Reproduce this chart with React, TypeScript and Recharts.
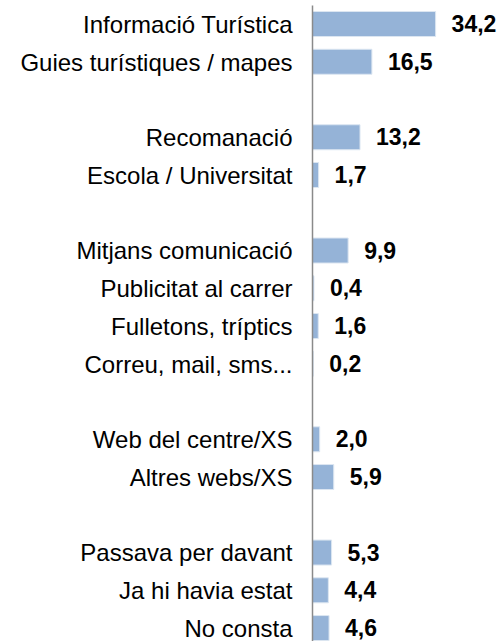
import { Bar, BarChart, LabelList, XAxis, YAxis } from "recharts"

// blank entries are the spacer rows between groups
const categories = [
  "Informació Turística",
  "Guies turístiques / mapes",
  "",
  "Recomanació",
  "Escola / Universitat",
  "",
  "Mitjans comunicació",
  "Publicitat al carrer",
  "Fulletons, tríptics",
  "Correu, mail, sms...",
  "",
  "Web del centre/XS",
  "Altres webs/XS",
  "",
  "Passava per davant",
  "Ja hi havia estat",
  "No consta",
]

const values = [34.2, 16.5, null, 13.2, 1.7, null, 9.9, 0.4, 1.6, 0.2, null, 2.0, 5.9, null, 5.3, 4.4, 4.6]

const data = categories.map((name, i) => ({ idx: i, name, value: values[i] }))

const fmt = (v: any) => (v == null || v === "" ? "" : Number(v).toFixed(1).replace(".", ","))

export default function App() {
  return (
    <div style={{ position: "absolute", left: 0, top: 0, fontFamily: "'Liberation Sans', Arial, sans-serif" }}>
      <BarChart
        width={502}
        height={660}
        data={data}
        layout="vertical"
        margin={{ top: 5.5, right: 9.5, bottom: 12.7, left: 0 }}
      >
        <XAxis type="number" domain={[0, 50]} hide />
        <YAxis
          type="category"
          dataKey="idx"
          width={312.5}
          interval={0}
          tickLine={false}
          tickSize={0}
          tickMargin={20}
          tickFormatter={(i: number) => categories[i]}
          axisLine={{ stroke: "#8a8a8a", strokeWidth: 1.5 }}
          tick={{ fill: "#000", fontSize: 24 }}
        />
        <Bar dataKey="value" fill="#95b3d7" stroke="#dce6f1" strokeWidth={1} barSize={25} isAnimationActive={false}>
          <LabelList
            dataKey="value"
            position="right"
            offset={16}
            formatter={fmt}
            style={{ fill: "#000", fontSize: 23, fontWeight: "bold" }}
          />
        </Bar>
      </BarChart>
    </div>
  )
}
